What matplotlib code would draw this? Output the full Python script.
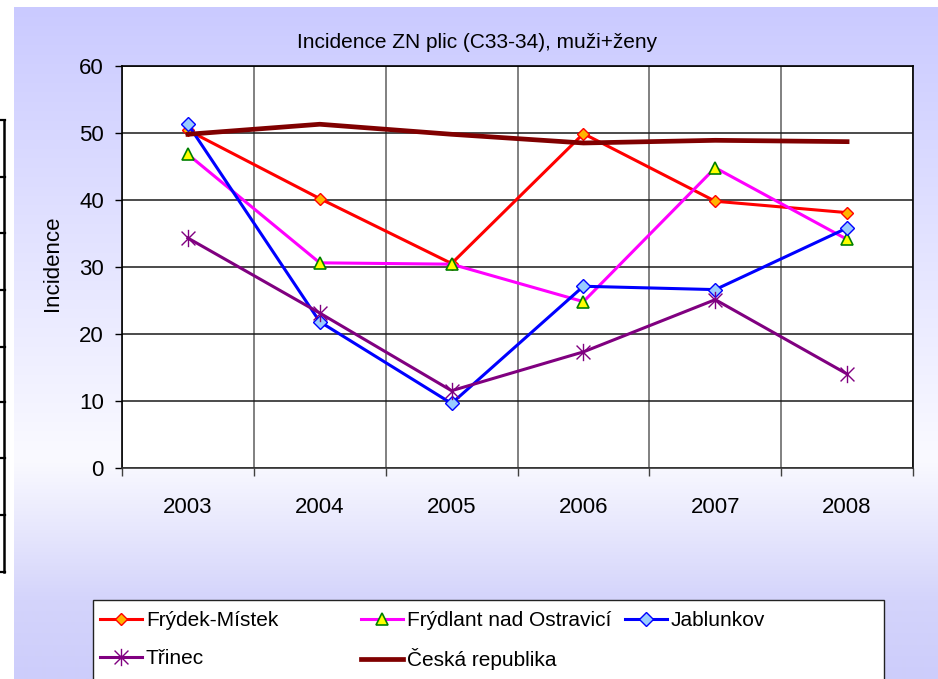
import numpy as np
import matplotlib
matplotlib.use("Agg")
import matplotlib.pyplot as plt
from matplotlib.path import Path
from matplotlib.lines import Line2D
from matplotlib.patches import Rectangle

years = ["2003", "2004", "2005", "2006", "2007", "2008"]
frydek_mistek = [50.4, 40.2, 30.5, 49.9, 39.8, 38.1]
frydlant = [46.8, 30.6, 30.4, 24.8, 44.8, 34.1]
jablunkov = [51.3, 21.8, 9.6, 27.1, 26.6, 35.8]
trinec = [34.3, 23.1, 11.5, 17.3, 25.1, 14.0]
ceska_republika = [49.8, 51.3, 49.8, 48.5, 48.9, 48.7]

W, H = 938, 679


def fx(px):
    return px / W


def fy(py):
    return 1 - py / H


def asterisk_marker():
    verts = [(0, -1), (0, 1), (-0.8, -0.8), (0.8, 0.8), (-0.8, 0.8), (0.8, -0.8)]
    codes = [Path.MOVETO, Path.LINETO] * 3
    return Path(verts, codes)


def draw_background(fig):
    # lavender gradient panel, lighter towards the bottom of the plot
    bg = fig.add_axes([fx(14), 0, 1 - fx(14), fy(7)], zorder=-10)
    stops_y = [7, 460, 600, 679]
    stops_v = [202, 250, 212, 205]
    rows = np.arange(7, 680)
    g = np.interp(rows, stops_y, stops_v) / 255
    b = np.interp(rows, stops_y, [255, 255, 251, 251]) / 255
    img = np.stack([g, g, b], axis=1)[:, None, :]
    bg.imshow(img, aspect="auto", extent=[0, 1, 0, 1])
    bg.set_axis_off()

    # edge of a table that sticks in from the left
    for py in [120, 177, 233, 290, 347, 402, 458, 515, 572]:
        fig.add_artist(Line2D([0, fx(5)], [fy(py), fy(py)], color="black", lw=1.6))
    fig.add_artist(Line2D([fx(4), fx(4)], [fy(120), fy(572)], color="black", lw=1.8))


def create_chart():
    fig = plt.figure(figsize=(W / 100, H / 100), dpi=100)
    fig.patch.set_facecolor("white")
    draw_background(fig)

    ax = fig.add_axes([fx(122), fy(467.7), fx(913) - fx(122), fy(66) - fy(467.7)])
    ax.set_facecolor("white")
    x = np.arange(len(years))

    ax.plot(x, frydek_mistek, color="#ff0000", lw=2.2, marker="D", ms=6.5,
            mfc="#ffb400", mec="#ff0000", mew=1, label="Frýdek-Místek", zorder=4)
    ax.plot(x, frydlant, color="#ff00ff", lw=2.2, marker="^", ms=9,
            mfc="#ffff00", mec="#008000", mew=1.2, label="Frýdlant nad Ostravicí", zorder=4)
    ax.plot(x, jablunkov, color="#0000ff", lw=2.2, marker="D", ms=7,
            mfc="#99ccff", mec="#0000ff", mew=1, label="Jablunkov", zorder=4)
    ax.plot(x, trinec, color="#800080", lw=2.2, marker=asterisk_marker(), ms=12.5,
            mec="#800080", mew=1, label="Třinec", zorder=4)
    ax.plot(x, ceska_republika, color="#800000", lw=3.4, label="Česká republika", zorder=4)

    ax.set_xlim(-0.5, len(years) - 0.5)
    ax.set_ylim(0, 60)
    ax.set_yticks(range(0, 61, 10))
    ax.set_xticks(x)
    ax.set_xticklabels(years)
    ax.set_xticks(np.arange(-0.5, len(years)), minor=True)

    ax.tick_params(axis="y", direction="out", length=5, width=1, pad=8,
                   labelsize=16, colors="black")
    ax.tick_params(axis="x", which="major", length=0, pad=21, labelsize=16)
    ax.tick_params(axis="x", which="minor", direction="out", length=6, width=1, color="#404040")
    for lab in ax.get_xticklabels() + ax.get_yticklabels():
        lab.set_family("Liberation Sans")

    ax.grid(axis="y", which="major", color="#1a1a1a", lw=1.1, zorder=1)
    ax.grid(axis="x", which="minor", color="#808080", lw=1.4, zorder=1)
    ax.set_axisbelow(True)
    for sp in ax.spines.values():
        sp.set_color("black")
        sp.set_linewidth(1.2)
    ax.spines["bottom"].set_color("#333333")

    ax.set_ylabel("Incidence", fontsize=16, family="Liberation Sans")
    ax.yaxis.set_label_coords(-0.075, 0.51)

    fig.text(fx(477), fy(42), "Incidence ZN plic (C33-34), muži+ženy",
             ha="center", va="center", fontsize=15, family="Liberation Sans")

    # legend box cut off by the bottom of the picture
    fig.add_artist(Rectangle((fx(93), fy(690)), fx(884) - fx(93), fy(600) - fy(690),
                             transform=fig.transFigure, facecolor="white",
                             edgecolor="#222222", lw=1, zorder=5))

    # one small legend per entry so the columns sit where Excel put them
    handles, labels = ax.get_legend_handles_labels()
    spots = [(100, 621), (361, 621), (625, 621), (100, 659), (361, 659)]
    for h, lab, (left, row) in zip(handles, labels, spots):
        leg = fig.legend([h], [lab], loc="center left",
                         bbox_to_anchor=(fx(left), fy(row)),
                         frameon=False, borderpad=0, borderaxespad=0,
                         handlelength=2.0, handletextpad=0.2, numpoints=1,
                         prop={"family": "Liberation Sans", "size": 15})
        leg.set_zorder(6)

    fig.savefig("out.png", dpi=100)


def main():
    create_chart()


if __name__ == "__main__":
    main()
